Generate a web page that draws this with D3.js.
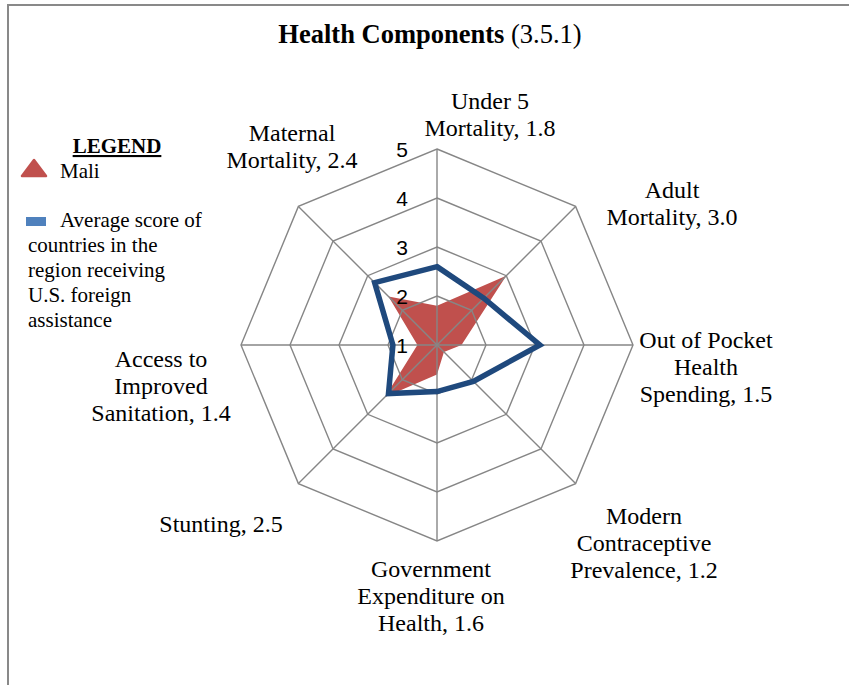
<!DOCTYPE html>
<html>
<head>
<meta charset="utf-8">
<script src="https://cdn.jsdelivr.net/npm/d3@7"></script>
<style>
  body { margin: 0; background: #fff; }
  svg { display: block; }
  .lbl { font-family: "Liberation Serif", "Times New Roman", serif; font-size: 24px; fill: #000; }
  .title { font-family: "Liberation Serif", "Times New Roman", serif; font-size: 26.5px; fill: #000; }
  .leg { font-family: "Liberation Serif", "Times New Roman", serif; font-size: 21px; fill: #000; }
  .tick { font-family: "Liberation Sans", Arial, sans-serif; font-size: 21px; fill: #000; }
</style>
</head>
<body>
<svg width="849" height="685"></svg>
<script>
// categories clockwise from the top
var categories = ["Under 5 Mortality", "Adult Mortality", "Out of Pocket Health Spending",
  "Modern Contraceptive Prevalence", "Government Expenditure on Health", "Stunting",
  "Access to Improved Sanitation", "Maternal Mortality"];
var maliValues = [1.8, 3.0, 1.5, 1.2, 1.6, 2.5, 1.4, 2.4];
var regionAvg = [2.6, 2.35, 3.1, 2.05, 1.95, 2.4, 1.9, 2.8];
var tickValues = [1, 2, 3, 4, 5];
// how each label is broken into lines in the chart
var labelLines = [
  ["Under 5", "Mortality, 1.8"],
  ["Adult", "Mortality, 3.0"],
  ["Out of Pocket", "Health", "Spending, 1.5"],
  ["Modern", "Contraceptive", "Prevalence, 1.2"],
  ["Government", "Expenditure on", "Health, 1.6"],
  ["Stunting, 2.5"],
  ["Access to", "Improved", "Sanitation, 1.4"],
  ["Maternal", "Mortality, 2.4"]
];
var legendLines = ["countries in the", "region receiving", "U.S. foreign", "assistance"];

var svg = d3.select("svg");
var cx = 437, cy = 345, R = 196;

// frame
svg.append("path")
  .attr("d", "M8,685V5H849")
  .attr("fill", "none").attr("stroke", "#898989").attr("stroke-width", 2);

// title
var title = svg.append("text").attr("class", "title")
  .attr("x", 430).attr("y", 43).attr("text-anchor", "middle");
title.append("tspan").attr("font-weight", "bold").text("Health Components");
title.append("tspan").text(" (3.5.1)");

var r = d3.scaleLinear().domain([1, 5]).range([0, R]);
var angle = d3.scaleLinear().domain([0, categories.length]).range([0, 2 * Math.PI]);

var g = svg.append("g").attr("transform", "translate(" + cx + "," + cy + ")");

var radial = d3.lineRadial()
  .angle(function(d, i) { return angle(i); })
  .radius(function(d) { return r(d); })
  .curve(d3.curveLinearClosed);

// Mali area
g.append("path")
  .datum(maliValues)
  .attr("d", radial)
  .attr("fill", "#C0504D");

// grid rings
var grid = g.append("g");
tickValues.slice(1).forEach(function(t) {
  grid.append("path")
    .datum(categories.map(function() { return t; }))
    .attr("d", radial)
    .attr("fill", "none").attr("stroke", "#868686").attr("stroke-width", 1.4);
});
// spokes
grid.selectAll("line").data(categories).enter().append("line")
  .attr("x1", 0).attr("y1", 0)
  .attr("x2", function(d, i) { return r(5) * Math.sin(angle(i)); })
  .attr("y2", function(d, i) { return -r(5) * Math.cos(angle(i)); })
  .attr("stroke", "#868686").attr("stroke-width", 1.4);

// regional average line
g.append("path")
  .datum(regionAvg)
  .attr("d", radial)
  .attr("fill", "none").attr("stroke", "#1F497D").attr("stroke-width", 5.5)
  .attr("stroke-linejoin", "miter");

// tick labels
g.selectAll("text.tick").data(tickValues).enter().append("text")
  .attr("class", "tick")
  .attr("x", -29).attr("y", function(d) { return -r(d) + 8; })
  .attr("text-anchor", "end")
  .text(function(d) { return d; });

// category labels: anchor centre per axis, offsets for the layout
var labelAnchor = [[53, -236], [235, -147], [269, 3], [207, 179], [-6, 232], [-216, 187], [-276, 22], [-145, -204]];
var lineH = 27;
labelLines.forEach(function(lines, i) {
  var t = svg.append("text").attr("class", "lbl").attr("text-anchor", "middle");
  lines.forEach(function(s, j) {
    t.append("tspan")
      .attr("x", cx + labelAnchor[i][0])
      .attr("y", cy + labelAnchor[i][1] + j * lineH)
      .text(s);
  });
});

// legend
var leg = svg.append("g");
leg.append("text").attr("class", "leg")
  .attr("x", 117).attr("y", 153).attr("text-anchor", "middle")
  .attr("font-weight", "bold")
  .attr("text-decoration", "underline").text("LEGEND");
leg.append("path")
  .attr("d", "M34,160L46,176L22,176Z")
  .attr("fill", "#C0504D").attr("stroke", "#C0504D").attr("stroke-width", 2.5)
  .attr("stroke-linejoin", "round");
leg.append("text").attr("class", "leg")
  .attr("x", 60).attr("y", 178).text("Mali");
leg.append("rect")
  .attr("x", 26).attr("y", 217).attr("width", 20).attr("height", 9)
  .attr("fill", "#4F81BD");
leg.append("text").attr("class", "leg")
  .attr("x", 60).attr("y", 227).text("Average score of");
leg.selectAll("text.ll").data(legendLines).enter().append("text")
  .attr("class", "leg ll")
  .attr("x", 28).attr("y", function(d, i) { return 252 + i * 25; })
  .text(function(d) { return d; });
</script>
</body>
</html>
